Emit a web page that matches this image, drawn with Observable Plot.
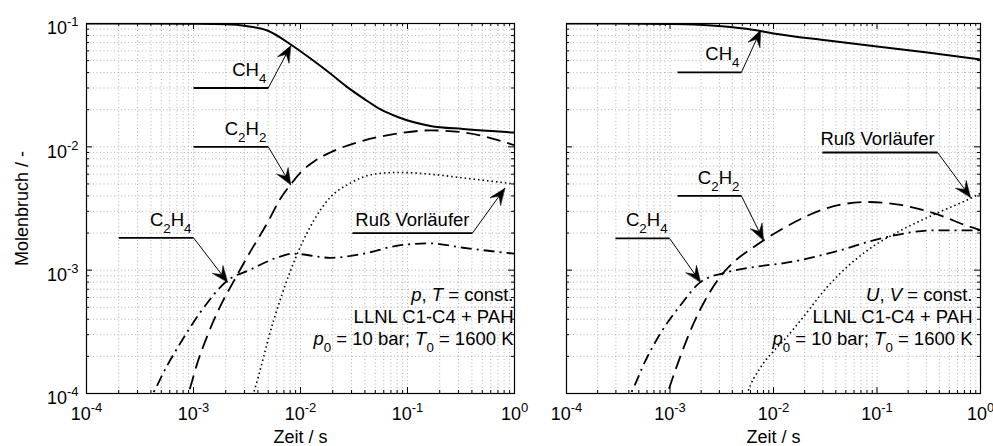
<!DOCTYPE html>
<html><head><meta charset="utf-8">
<script src="https://cdn.jsdelivr.net/npm/d3@7"></script>
<script src="https://cdn.jsdelivr.net/npm/@observablehq/plot@0.6"></script>
<style>
body{margin:0;background:#fff;}
#chart{position:relative;width:993px;height:446px;background:#fff;overflow:hidden;}
</style></head><body><div id="chart"></div>
<script>
// ---------- tick labels ----------
const xMajor = [1e-4, 1e-3, 1e-2, 1e-1, 1];
const xTickLabels = ["10^{-4}", "10^{-3}", "10^{-2}", "10^{-1}", "10^{0}"];
const yMajor = [1e-4, 1e-3, 1e-2, 1e-1];
const yTickLabels = ["10^{-4}", "10^{-3}", "10^{-2}", "10^{-1}"];
const xDecades = [1e-4, 1e-3, 1e-2, 1e-1];
const yDecades = [1e-4, 1e-3, 1e-2];
const minorSteps = [2, 3, 4, 5, 6, 7, 8, 9];
const xMinor = xDecades.flatMap(d => minorSteps.map(k => k * d));
const yMinor = yDecades.flatMap(d => minorSteps.map(k => k * d));
const xTitle = "Zeit / s";
const yTitle = "Molenbruch / -";

// ---------- left panel: p, T = const. ----------
const ch4L_t  = [1e-4, 3e-4, 1e-3, 2e-3, 3.1e-3, 4.9e-3, 8.1e-3, 1.24e-2, 1.9e-2, 2.7e-2, 3.9e-2, 5.6e-2, 8.1e-2, 0.164, 0.33, 1];
const ch4L_y  = [0.1, 0.1, 0.0995, 0.0985, 0.0954, 0.0877, 0.0676, 0.052, 0.0393, 0.0308, 0.0246, 0.0201, 0.01745, 0.01476, 0.01394, 0.01305];
const c2h2L_t = [8.0e-4, 8.97e-4, 1.09e-3, 1.35e-3, 1.79e-3, 2.37e-3, 3.41e-3, 4.92e-3, 6.5e-3, 8.07e-3, 1.0e-2, 1.38e-2, 1.9e-2, 3.88e-2, 8.07e-2, 0.164, 0.333, 1];
const c2h2L_y = [7.5e-5, 1e-4, 1.78e-4, 2.95e-4, 5.16e-4, 8.09e-4, 1.42e-3, 2.43e-3, 3.81e-3, 4.94e-3, 6.19e-3, 7.75e-3, 9.0e-3, 1.125e-2, 1.28e-2, 1.36e-2, 1.31e-2, 1.03e-2];
const c2h4L_t = [3.55e-4, 4.17e-4, 5.6e-4, 7.6e-4, 1.17e-3, 2.08e-3, 3.4e-3, 6.3e-3, 8.5e-3, 1.9e-2, 3.9e-2, 8.1e-2, 0.164, 0.33, 1];
const c2h4L_y = [8e-5, 1e-4, 1.65e-4, 2.59e-4, 4.61e-4, 8.24e-4, 1.01e-3, 1.28e-3, 1.36e-3, 1.26e-3, 1.36e-3, 1.58e-3, 1.65e-3, 1.52e-3, 1.36e-3];
const sootL_t = [3.16e-3, 3.63e-3, 5.6e-3, 8.1e-3, 1.32e-2, 1.9e-2, 2.95e-2, 4.8e-2, 8.1e-2, 0.164, 0.33, 1];
const sootL_y = [7e-5, 1e-4, 3.9e-4, 1.0e-3, 2.5e-3, 3.9e-3, 5.1e-3, 6.0e-3, 6.2e-3, 6.0e-3, 5.6e-3, 5.0e-3];

// ---------- right panel: U, V = const. ----------
const ch4R_t  = [1e-4, 3e-4, 1e-3, 3.16e-3, 6.3e-3, 1e-2, 3.2e-2, 0.1, 0.32, 1];
const ch4R_y  = [0.1, 0.0999, 0.099, 0.095, 0.089, 0.083, 0.073, 0.065, 0.058, 0.051];
const c2h2R_t = [8.5e-4, 9.46e-4, 1.26e-3, 1.69e-3, 2.3e-3, 3.08e-3, 4.3e-3, 6.0e-3, 8.4e-3, 1.25e-2, 3.3e-2, 8.1e-2, 0.169, 0.352, 0.80, 1];
const c2h2R_y = [7.5e-5, 1e-4, 2.0e-4, 3.7e-4, 6.15e-4, 8.94e-4, 1.2e-3, 1.48e-3, 1.79e-3, 2.19e-3, 3.19e-3, 3.57e-3, 3.38e-3, 2.9e-3, 2.24e-3, 2.11e-3];
const c2h4R_t = [3.55e-4, 4.17e-4, 5.8e-4, 8.1e-4, 1.26e-3, 1.97e-3, 3.6e-3, 7.5e-3, 1.26e-2, 3.8e-2, 0.115, 0.355, 1];
const c2h4R_y = [8e-5, 1e-4, 1.85e-4, 3.08e-4, 5.19e-4, 8.0e-4, 9.64e-4, 1.08e-3, 1.14e-3, 1.4e-3, 1.83e-3, 2.1e-3, 2.1e-3];
const sootR_t = [5.0e-3, 5.6e-3, 7.4e-3, 1e-2, 1.26e-2, 1.82e-2, 3.3e-2, 8.1e-2, 0.17, 0.38, 0.79, 1];
const sootR_y = [7e-5, 1e-4, 1.6e-4, 2.2e-4, 2.7e-4, 3.9e-4, 7.3e-4, 1.45e-3, 2.1e-3, 2.9e-3, 3.8e-3, 4.2e-3];

// ---------- annotations (data units) ----------
const annotL = [
  {label: "CH_4",          t0: 1e-3,    t1: 5e-3,    yLine: 0.03,    tTip: 8.1e-3, yTip: 0.066},
  {label: "C_2H_2",        t0: 1e-3,    t1: 5e-3,    yLine: 0.01,    tTip: 8.1e-3, yTip: 4.94e-3},
  {label: "C_2H_4",        t0: 2e-4,    t1: 1e-3,    yLine: 1.83e-3, tTip: 2.08e-3, yTip: 8.0e-4},
  {label: "Ruß Vorläufer", t0: 3.06e-2, t1: 0.405,   yLine: 2e-3,    tTip: 0.81,   yTip: 4.6e-3}
];
const annotR = [
  {label: "CH_4",          t0: 1.18e-3, t1: 4.9e-3,  yLine: 0.0402,  tTip: 7.5e-3, yTip: 0.088},
  {label: "C_2H_2",        t0: 1.18e-3, t1: 4.9e-3,  yLine: 4.0e-3,  tTip: 8.0e-3, yTip: 1.75e-3},
  {label: "C_2H_4",        t0: 2.97e-4, t1: 9.9e-4,  yLine: 1.81e-3, tTip: 1.97e-3, yTip: 8.0e-4},
  {label: "Ruß Vorläufer", t0: 2.97e-2, t1: 0.385,   yLine: 9.0e-3,  tTip: 0.80,   yTip: 3.9e-3}
];
const boxL = ["$p$, $T$ = const.", "LLNL C1-C4 + PAH", "$p$_0 = 10 bar; $T$_0 = 1600 K"];
const boxR = ["$U$, $V$ = const.", "LLNL C1-C4 + PAH", "$p$_0 = 10 bar; $T$_0 = 1600 K"];

const toRows = (t, y) => t.map((v, i) => ({t: v, y: y[i]}));
const seriesL = {ch4: toRows(ch4L_t, ch4L_y), c2h2: toRows(c2h2L_t, c2h2L_y), c2h4: toRows(c2h4L_t, c2h4L_y), soot: toRows(sootL_t, sootL_y)};
const seriesR = {ch4: toRows(ch4R_t, ch4R_y), c2h2: toRows(c2h2R_t, c2h2R_y), c2h4: toRows(c2h4R_t, c2h4R_y), soot: toRows(sootR_t, sootR_y)};

const H = 446, MT = 23, MB = 53;
const FONT = "'Liberation Sans', Arial, Helvetica, sans-serif";

const headShape = {
  draw(ctx, l) {
    ctx.moveTo(0, 0);
    ctx.lineTo(-6.5, l);
    ctx.lineTo(0, 0.6 * l);
    ctx.lineTo(6.5, l);
    ctx.closePath();
  }
};

function buildPanel(cfg, rot) {
  const plotW = cfg.width - cfg.marginLeft - cfg.marginRight;
  const plotH = H - MT - MB;
  const s = cfg.series;
  const lineOpts = {x: "t", y: "y", stroke: "black", clip: true, curve: "monotone-x", strokeLinecap: "butt"};
  const marks = [
    Plot.ruleX(xMajor.concat(xMinor), {x: d => d, stroke: "#b4b4b4", strokeDasharray: "1,2.5", strokeWidth: 1}),
    Plot.ruleY(yMajor.concat(yMinor), {y: d => d, stroke: "#b4b4b4", strokeDasharray: "1,2.5", strokeWidth: 1}),
    Plot.line(s.soot, {...lineOpts, strokeWidth: 1.6, strokeDasharray: "1.5,3"}),
    Plot.line(s.c2h4, {...lineOpts, strokeWidth: 1.8, strokeDasharray: "11,5,2,5"}),
    Plot.line(s.c2h2, {...lineOpts, strokeWidth: 1.8, strokeDasharray: "14,7"}),
    Plot.line(s.ch4, {...lineOpts, strokeWidth: 2}),
    // inward ticks, all four sides
    Plot.tickX(xMajor, {x: d => d, insetTop: plotH - 6, stroke: "black"}),
    Plot.tickX(xMinor, {x: d => d, insetTop: plotH - 3, stroke: "black"}),
    Plot.tickX(xMajor, {x: d => d, insetBottom: plotH - 6, stroke: "black"}),
    Plot.tickX(xMinor, {x: d => d, insetBottom: plotH - 3, stroke: "black"}),
    Plot.tickY(yMajor, {y: d => d, insetRight: plotW - 6, stroke: "black"}),
    Plot.tickY(yMinor, {y: d => d, insetRight: plotW - 3, stroke: "black"}),
    Plot.tickY(yMajor, {y: d => d, insetLeft: plotW - 6, stroke: "black"}),
    Plot.tickY(yMinor, {y: d => d, insetLeft: plotW - 3, stroke: "black"}),
    Plot.frame({stroke: "black", strokeWidth: 1.2}),
    // x tick labels and title
    Plot.text(xMajor, {x: d => d, text: (d, i) => xTickLabels[i], frameAnchor: "bottom", dy: 21, lineAnchor: "middle", textAnchor: "middle", fontSize: 18}),
    Plot.text([xTitle], {text: d => d, frameAnchor: "bottom", dy: 44, lineAnchor: "middle", fontSize: 18}),
    // annotations
    Plot.link(cfg.annots, {x1: "t0", x2: "t1", y1: "yLine", y2: "yLine", stroke: "black", strokeWidth: 1.8}),
    Plot.link(cfg.annots, {x1: "t1", y1: "yLine", x2: "tTip", y2: "yTip", stroke: "black", strokeWidth: 1}),
    Plot.text(cfg.annots.filter(d => d.label.includes("_")), {x: "t1", y: "yLine", text: "label", textAnchor: "end", lineAnchor: "middle", dx: -2, dy: -18, fontSize: 18.5}),
    Plot.text(cfg.annots.filter(d => !d.label.includes("_")), {x: "t1", y: "yLine", text: "label", textAnchor: "end", lineAnchor: "middle", dx: -3, dy: -13, fontSize: 18.5}),
    // info box
    Plot.text([cfg.box[0]], {text: d => d, frameAnchor: "bottom-right", textAnchor: "end", lineAnchor: "middle", dx: cfg.boxDx, dy: -98, fontSize: 18.5}),
    Plot.text([cfg.box[1]], {text: d => d, frameAnchor: "bottom-right", textAnchor: "end", lineAnchor: "middle", dx: cfg.boxDx, dy: -76, fontSize: 18.5}),
    Plot.text([cfg.box[2]], {text: d => d, frameAnchor: "bottom-right", textAnchor: "end", lineAnchor: "middle", dx: cfg.boxDx, dy: -54, fontSize: 18.5})
  ];
  if (cfg.showY) {
    marks.push(Plot.text(yMajor, {y: d => d, text: (d, i) => yTickLabels[i], frameAnchor: "left", dx: -8, dy: 5, textAnchor: "end", lineAnchor: "middle", fontSize: 18}));
    marks.push(Plot.text([yTitle], {text: d => d, frameAnchor: "left", dx: -64, rotate: -90, textAnchor: "middle", lineAnchor: "middle", fontSize: 18}));
  }
  if (rot) {
    marks.push(Plot.vector(cfg.annots, {x: "tTip", y: "yTip", rotate: (d, i) => rot[i], length: 16, anchor: "start", shape: headShape, fill: "black", stroke: "black", strokeWidth: 0.5}));
  }
  return Plot.plot({
    width: cfg.width, height: H,
    marginLeft: cfg.marginLeft, marginRight: cfg.marginRight, marginTop: MT, marginBottom: MB,
    x: {type: "log", domain: [1e-4, 1], axis: null},
    y: {type: "log", domain: [1e-4, 0.1], axis: null},
    style: {background: "transparent", fontFamily: FONT, fontSize: "18px", color: "black", overflow: "visible"},
    marks
  });
}

function makePanel(cfg) {
  const first = buildPanel(cfg, null);
  const sx = first.scale("x"), sy = first.scale("y");
  const rot = cfg.annots.map(a => {
    const dx = sx.apply(a.tTip) - sx.apply(a.t1);
    const dy = sy.apply(a.yTip) - sy.apply(a.yLine);
    return Math.atan2(dx, -dy) * 180 / Math.PI;
  });
  return buildPanel(cfg, rot);
}

function richify(svg) {
  svg.querySelectorAll("text").forEach(el => {
    const s = el.textContent;
    if (!/[\^_$]/.test(s)) return;
    const base = parseFloat(getComputedStyle(el).fontSize) || 18;
    const segs = [];
    let italic = false, buf = "";
    const flush = () => { if (buf) segs.push({text: buf, italic, kind: null}); buf = ""; };
    for (let i = 0; i < s.length; i++) {
      const c = s[i];
      if (c === "$") { flush(); italic = !italic; continue; }
      if (c === "^" || c === "_") {
        flush();
        let g;
        if (s[i + 1] === "{") { const j = s.indexOf("}", i); g = s.slice(i + 2, j); i = j; }
        else { g = s[i + 1]; i++; }
        segs.push({text: g, italic: false, kind: c === "^" ? "sup" : "sub"});
        continue;
      }
      buf += c;
    }
    flush();
    el.textContent = "";
    let off = 0;
    for (const sg of segs) {
      const t = document.createElementNS("http://www.w3.org/2000/svg", "tspan");
      const shift = sg.kind === "sup" ? -0.44 * base : sg.kind === "sub" ? 0.38 * base : 0;
      if (shift !== off) t.setAttribute("dy", (shift - off).toFixed(2));
      off = shift;
      if (sg.kind) t.setAttribute("font-size", (0.72 * base).toFixed(1));
      if (sg.italic) t.setAttribute("font-style", "italic");
      t.textContent = sg.text;
      el.appendChild(t);
    }
  });
}

const chart = document.getElementById("chart");
const left = makePanel({series: seriesL, annots: annotL, box: boxL, showY: true, width: 520, marginLeft: 86, marginRight: 6, boxDx: -1});
const right = makePanel({series: seriesR, annots: annotR, box: boxR, showY: false, width: 473, marginLeft: 46, marginRight: 13, boxDx: -8});
[[left, 0], [right, 520]].forEach(([svg, x]) => {
  svg.style.position = "absolute";
  svg.style.left = x + "px";
  svg.style.top = "0px";
  svg.style.overflow = "visible";
  svg.style.maxWidth = "none";
  chart.appendChild(svg);
  richify(svg);
});
</script></body></html>
